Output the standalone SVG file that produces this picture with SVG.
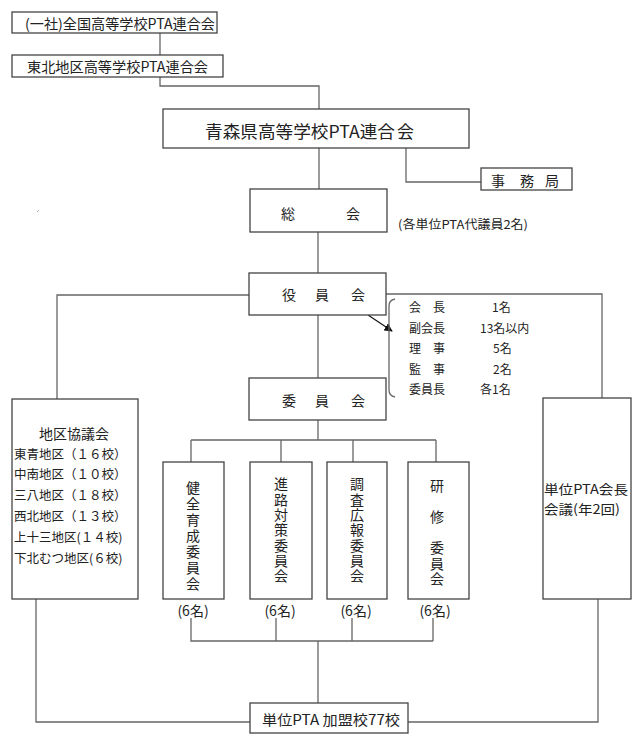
<svg xmlns="http://www.w3.org/2000/svg" width="640" height="746" viewBox="0 0 640 746">
<defs>
<style>
text{font-family:"Noto Sans CJK JP","Liberation Sans",sans-serif;fill:#222;dominant-baseline:central}
.box{fill:#fff;stroke:#444;stroke-width:1.3}
.ln{fill:none;stroke:#666;stroke-width:1.3}
.f14{font-size:14px}
.f13{font-size:13px}
.f12{font-size:12px}
.f125{font-size:12.5px}
.f17{font-size:17px}
.mid{text-anchor:middle}
.vt{font-size:14px;writing-mode:vertical-rl;text-anchor:start}
</style>
<marker id="ah" viewBox="0 0 10 10" refX="9" refY="5" markerWidth="7" markerHeight="7" orient="auto">
<path d="M0,0 L10,5 L0,10 z" fill="#111"/>
</marker>
</defs>
<rect width="640" height="746" fill="#fff"/>
<g id="connectors">
<path class="ln" d="M160,33 V55"/>
<path class="ln" d="M160,77 V86 H319 V109"/>
<path class="ln" d="M319,148 V189"/>
<path class="ln" d="M406,148 V182 H481"/>
<path class="ln" d="M318,232 V273"/>
<path class="ln" d="M249,295 H57 V399"/>
<path class="ln" d="M386,294 H602 V398"/>
<path class="ln" d="M318,315 V378"/>
<path class="ln" d="M318,420 V440"/>
<path class="ln" d="M191,440 H436 M191,440 V462 M281,440 V462 M353,440 V462 M436,440 V462"/>
<path class="ln" d="M191,618 V641 H433 M276,618 V641 M352,618 V641 M433,618 V641 M318,641 V703"/>
<path class="ln" d="M36,599 V722 H250"/>
<path class="ln" d="M598,599 V722 H408"/>
<path d="M368,315 L392,331" stroke="#111" stroke-width="1.2" fill="none" marker-end="url(#ah)"/>
<path d="M395,299 Q389,300 389,306 V390 Q389,396 395,397" class="ln"/>
<path d="M37,212 L39,210" stroke="#999" stroke-width="0.8"/>
</g>
<g id="zenkoku">
<rect class="box" x="12" y="12" width="205" height="21"/>
<text class="f14" x="25" y="23" textLength="190" lengthAdjust="spacingAndGlyphs">(一社)全国高等学校PTA連合会</text>
</g>
<g id="tohoku">
<rect class="box" x="12" y="55" width="211" height="22"/>
<text class="f14" x="27" y="66" textLength="181" lengthAdjust="spacingAndGlyphs">東北地区高等学校PTA連合会</text>
</g>
<g id="aomori">
<rect class="box" x="163" y="109" width="306" height="39"/>
<text class="f17" x="205" y="130"><tspan textLength="190" lengthAdjust="spacingAndGlyphs">青森県高等学校PTA連合</tspan><tspan x="397">会</tspan></text>
</g>
<g id="jimukyoku">
<rect class="box" x="481" y="168" width="91" height="22"/>
<text class="f14 mid" y="180"><tspan x="498">事</tspan><tspan x="527">務</tspan><tspan x="552">局</tspan></text>
</g>
<g id="sokai">
<rect class="box" x="250" y="189" width="137" height="43"/>
<text class="f14 mid" y="213"><tspan x="288">総</tspan><tspan x="353">会</tspan></text>
<text class="f12" x="398" y="223" textLength="130" lengthAdjust="spacingAndGlyphs">(各単位PTA代議員2名)</text>
</g>
<g id="yakuinkai">
<rect class="box" x="249" y="273" width="137" height="42"/>
<text class="f14 mid" y="294"><tspan x="289">役</tspan><tspan x="322">員</tspan><tspan x="358">会</tspan></text>
</g>
<g id="yakuin-list">
<text class="f12" x="409" y="306">会　長</text>
<text class="f12" x="492" y="306">1名</text>
<text class="f12" x="409" y="327">副会長</text>
<text class="f12" x="480" y="327">13名以内</text>
<text class="f12" x="409" y="347">理　事</text>
<text class="f12" x="493" y="347">5名</text>
<text class="f12" x="409" y="368">監　事</text>
<text class="f12" x="493" y="368">2名</text>
<text class="f12" x="409" y="388">委員長</text>
<text class="f12" x="480" y="388">各1名</text>
</g>
<g id="iinkai">
<rect class="box" x="249" y="378" width="137" height="42"/>
<text class="f14 mid" y="400"><tspan x="289">委</tspan><tspan x="322">員</tspan><tspan x="358">会</tspan></text>
</g>
<g id="chiku">
<rect class="box" x="12" y="399" width="126" height="200"/>
<text class="f14" x="39" y="433">地区協議会</text>
<text class="f125" x="14" y="453">東青地区（１６校）</text>
<text class="f125" x="14" y="473">中南地区（１０校）</text>
<text class="f125" x="14" y="494">三八地区（１８校）</text>
<text class="f125" x="14" y="515">西北地区（１３校）</text>
<text class="f125" x="14" y="536">上十三地区(１４校)</text>
<text class="f125" x="14" y="557">下北むつ地区(６校)</text>
</g>
<g id="kaichokaigi">
<rect class="box" x="543" y="398" width="88" height="201"/>
<text class="f13" x="544" y="488" textLength="84" lengthAdjust="spacingAndGlyphs">単位PTA会長</text>
<text class="f13" x="544" y="508" textLength="76" lengthAdjust="spacingAndGlyphs">会議(年2回)</text>
</g>
<g id="kenzen">
<rect class="box" x="163" y="462" width="61" height="137"/>
<text class="vt" x="193" y="481" letter-spacing="2">健全育成委員会</text>
<text class="f14 mid" x="193" y="610">(6名)</text>
</g>
<g id="shinro">
<rect class="box" x="250" y="462" width="62" height="137"/>
<text class="vt" x="281" y="477" letter-spacing="1.3">進路対策委員会</text>
<text class="f14 mid" x="280" y="610">(6名)</text>
</g>
<g id="chosa">
<rect class="box" x="327" y="462" width="60" height="137"/>
<text class="vt" x="357" y="477" letter-spacing="1.3">調査広報委員会</text>
<text class="f14 mid" x="356" y="610">(6名)</text>
</g>
<g id="kenshu">
<rect class="box" x="408" y="462" width="61" height="137"/>
<text class="vt" x="437" y="479" letter-spacing="1.5">研　修　委員会</text>
<text class="f14 mid" x="435" y="610">(6名)</text>
</g>
<g id="tani">
<rect class="box" x="250" y="703" width="158" height="30"/>
<text class="f14" x="262" y="719" textLength="138" lengthAdjust="spacingAndGlyphs">単位PTA  加盟校77校</text>
</g>
</svg>
